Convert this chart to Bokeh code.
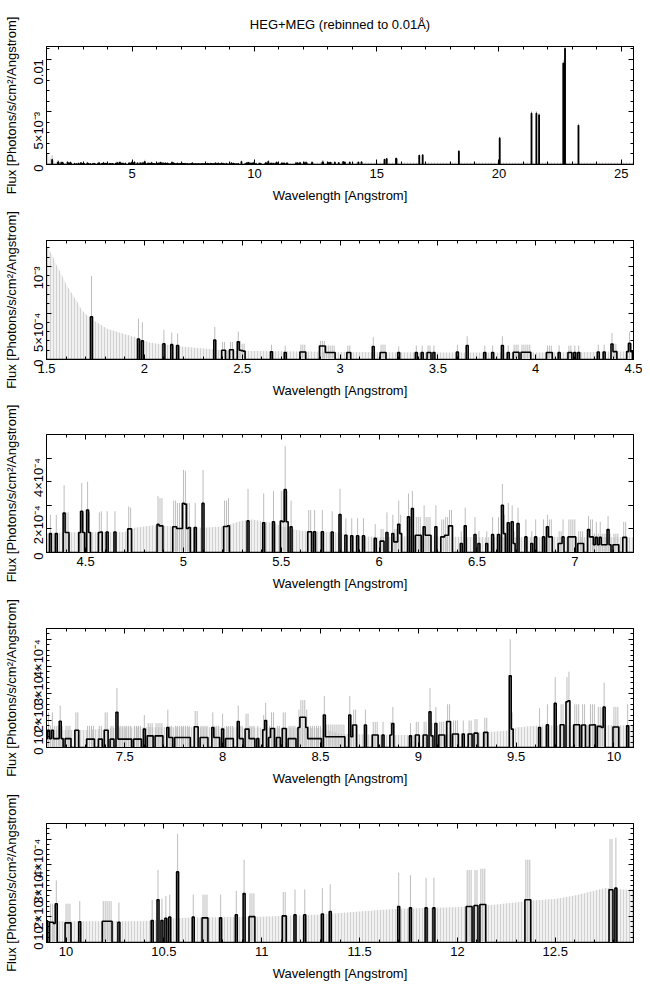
import math
import numpy as np
from bokeh.plotting import figure
from bokeh.models import (ColumnDataSource, Range1d, FixedTicker, LinearAxis,
                          CustomJSTickFormatter)
from bokeh.layouts import column
from bokeh.embed import file_html
from bokeh.resources import INLINE

# ---------------------------------------------------------------- data
TITLE = "HEG+MEG (rebinned to 0.01Å)"
XLABEL = "Wavelength [Angstrom]"
YLABEL = "Flux [Photons/s/cm²/Angstrom]"

UNIT = 1e-4          # fluxes below are in units of 1e-4 photons/s/cm2/A
BIN = 0.01
WMIN, WMAX = 1.5, 25.5

# non-zero bins: (wavelength, flux, upper end of error bar)
bins_1p5_4p3 = [
    (1.73, 4.6, 9.0), (1.97, 2.2, 4.4), (1.99, 2.0, 4.0), (2.10, 1.7, 3.2),
    (2.14, 1.6, 2.9), (2.17, 1.5, 2.8), (2.36, 2.1, 3.5), (2.40, 1.0, 1.9),
    (2.41, 1.0, 1.9), (2.44, 1.05, 1.9), (2.45, 1.05, 1.9), (2.48, 1.9, 3.0),
    (2.49, 1.0, 2.0), (2.50, 0.95, 1.7), (2.51, 0.9, 1.7), (2.65, 0.83, 1.6),
    (2.72, 0.75, 1.5), (2.80, 0.8, 1.6), (2.81, 0.8, 1.6), (2.82, 0.8, 1.6),
    (2.90, 1.45, 2.0), (2.91, 1.45, 2.0), (2.92, 1.45, 2.0), (2.93, 0.75, 1.5),
    (2.94, 0.75, 1.5), (2.95, 0.75, 1.5), (2.96, 0.75, 1.5), (2.97, 0.75, 1.5),
    (3.04, 0.75, 1.5), (3.05, 0.75, 1.5), (3.17, 1.4, 2.4), (3.21, 0.75, 1.6),
    (3.22, 0.75, 1.6), (3.23, 0.75, 1.6), (3.30, 0.75, 1.4), (3.39, 0.75, 1.5),
    (3.42, 0.75, 1.5), (3.45, 0.75, 1.5), (3.46, 0.75, 1.5), (3.48, 0.75, 1.5),
    (3.60, 0.8, 1.6), (3.65, 1.5, 2.5), (3.74, 0.75, 1.5), (3.78, 0.75, 1.5),
    (3.83, 1.5, 2.5), (3.86, 0.75, 1.5), (3.89, 0.78, 1.6), (3.90, 0.78, 1.6),
    (3.91, 0.78, 1.6), (3.93, 0.78, 1.6), (3.94, 0.78, 1.6), (3.95, 0.78, 1.6),
    (3.96, 0.78, 1.6), (3.97, 0.78, 1.6), (4.06, 0.75, 1.5), (4.07, 0.75, 1.5),
    (4.08, 0.75, 1.5), (4.12, 0.75, 1.5), (4.17, 0.75, 1.5), (4.18, 0.75, 1.5),
    (4.20, 0.75, 1.5), (4.22, 0.75, 1.5),
]

bins_4p3_7p1 = [
    (4.32, 0.8, 1.6), (4.35, 0.8, 1.6), (4.39, 1.67, 2.85), (4.40, 0.85, 1.7),
    (4.41, 0.85, 1.7), (4.47, 0.85, 1.75), (4.48, 1.75, 2.95), (4.49, 0.85, 1.7),
    (4.51, 1.8, 3.0), (4.52, 0.85, 1.7), (4.57, 0.85, 1.7), (4.58, 0.87, 1.75),
    (4.61, 0.87, 1.75), (4.65, 0.87, 1.75), (4.72, 1.0, 1.95), (4.73, 1.0, 1.9),
    (4.87, 1.19, 2.4), (4.88, 1.13, 2.3), (4.89, 1.13, 2.3), (4.95, 1.09, 2.2),
    (4.96, 1.09, 2.2), (4.97, 1.02, 2.1), (4.98, 1.02, 2.1), (4.99, 1.02, 2.1),
    (5.00, 2.08, 3.5), (5.01, 2.05, 3.45), (5.02, 1.02, 2.1), (5.03, 1.06, 2.1),
    (5.06, 1.06, 2.1), (5.10, 2.08, 3.5), (5.21, 1.1, 2.2), (5.22, 1.1, 2.2),
    (5.23, 1.13, 2.3), (5.33, 1.34, 2.7), (5.41, 1.26, 2.5), (5.46, 1.3, 2.6),
    (5.50, 1.33, 2.6), (5.51, 1.3, 2.6), (5.52, 2.67, 4.5), (5.53, 1.3, 2.6),
    (5.55, 1.09, 2.2), (5.64, 0.88, 1.8), (5.65, 0.88, 1.8), (5.67, 0.88, 1.8),
    (5.71, 0.88, 1.8), (5.76, 0.87, 1.75), (5.80, 1.61, 2.7), (5.83, 0.73, 1.45),
    (5.86, 0.71, 1.45), (5.89, 0.71, 1.45), (5.92, 0.71, 1.45), (5.98, 0.6, 1.2),
    (6.01, 0.48, 1.0), (6.02, 0.48, 1.0), (6.04, 0.85, 1.7), (6.07, 0.8, 1.6),
    (6.08, 0.45, 1.0), (6.09, 0.45, 1.0), (6.10, 1.2, 2.2), (6.11, 0.8, 1.6),
    (6.15, 1.51, 2.5), (6.17, 1.86, 2.6), (6.19, 0.73, 1.5), (6.20, 0.73, 1.5),
    (6.21, 0.73, 1.5), (6.23, 1.09, 2.0), (6.24, 0.73, 1.5), (6.25, 0.73, 1.5),
    (6.26, 0.73, 1.5), (6.29, 1.09, 2.0), (6.32, 0.66, 1.4), (6.33, 0.66, 1.4),
    (6.34, 0.73, 1.5), (6.35, 0.73, 1.5), (6.36, 1.13, 1.8), (6.37, 1.13, 1.8),
    (6.42, 0.38, 0.9), (6.44, 1.13, 1.9), (6.49, 0.76, 1.5), (6.51, 0.38, 0.9),
    (6.55, 0.38, 0.9), (6.58, 0.76, 1.5), (6.61, 0.76, 1.5), (6.63, 2.0, 2.9),
    (6.64, 0.8, 1.6), (6.66, 1.26, 2.1), (6.68, 1.3, 2.0), (6.69, 0.38, 0.9),
    (6.71, 1.23, 1.9), (6.75, 0.66, 1.4), (6.78, 0.38, 0.9), (6.80, 0.66, 1.4),
    (6.84, 0.66, 1.4), (6.86, 1.09, 1.6), (6.87, 0.66, 1.4), (6.88, 0.66, 1.4),
    (6.92, 0.38, 0.9), (6.93, 0.38, 0.9), (6.94, 0.66, 1.4), (6.97, 0.66, 1.4),
    (6.98, 0.66, 1.4), (6.99, 0.66, 1.4), (7.00, 0.66, 1.4), (7.02, 0.38, 0.9),
    (7.03, 0.38, 0.9), (7.04, 0.38, 0.9), (7.07, 0.97, 1.55), (7.08, 0.66, 1.4),
    (7.09, 0.66, 1.4),
]

bins_7p1_9p9 = [
    (7.10, 0.33, 0.8), (7.11, 0.64, 1.3), (7.12, 0.33, 0.8), (7.13, 0.64, 1.3),
    (7.14, 0.33, 0.8), (7.15, 0.33, 0.8), (7.16, 0.33, 0.8), (7.17, 0.97, 1.55),
    (7.18, 0.33, 0.8), (7.20, 0.33, 0.8), (7.21, 0.33, 0.8), (7.22, 0.33, 0.8),
    (7.25, 0.64, 1.3), (7.26, 0.64, 1.3), (7.31, 0.31, 0.8), (7.32, 0.31, 0.8),
    (7.33, 0.31, 0.8), (7.34, 0.31, 0.8), (7.37, 0.31, 0.8), (7.38, 0.31, 0.8),
    (7.40, 0.64, 1.3), (7.41, 0.64, 1.3), (7.43, 0.31, 0.8), (7.44, 0.31, 0.8),
    (7.46, 1.3, 2.2), (7.47, 0.31, 0.8), (7.48, 0.31, 0.8), (7.49, 0.31, 0.8),
    (7.50, 0.31, 0.8), (7.51, 0.31, 0.8), (7.52, 0.31, 0.8), (7.53, 0.31, 0.8),
    (7.55, 0.31, 0.8), (7.56, 0.31, 0.8), (7.57, 0.31, 0.8), (7.58, 0.31, 0.8),
    (7.60, 0.68, 1.2), (7.62, 0.43, 0.9), (7.63, 0.43, 0.9), (7.64, 0.43, 0.9),
    (7.66, 0.43, 0.9), (7.67, 0.43, 0.9), (7.68, 0.43, 0.9), (7.69, 0.43, 0.9),
    (7.72, 0.74, 1.4), (7.73, 0.37, 0.8), (7.74, 0.37, 0.8), (7.76, 0.37, 0.8),
    (7.77, 0.37, 0.8), (7.78, 0.37, 0.8), (7.79, 0.37, 0.8), (7.80, 0.37, 0.8),
    (7.81, 0.37, 0.8), (7.82, 0.37, 0.8), (7.83, 0.37, 0.8), (7.86, 0.77, 1.35),
    (7.87, 0.77, 1.35), (7.89, 0.37, 0.8), (7.90, 0.37, 0.8), (7.91, 0.37, 0.8),
    (7.92, 0.37, 0.8), (7.95, 0.74, 1.3), (7.96, 0.37, 0.8), (7.97, 0.37, 0.8),
    (7.98, 0.37, 0.8), (8.00, 0.68, 1.25), (8.02, 0.33, 0.8), (8.03, 0.33, 0.8),
    (8.04, 0.33, 0.8), (8.05, 0.33, 0.8), (8.08, 0.96, 1.55), (8.09, 0.33, 0.8),
    (8.10, 0.33, 0.8), (8.12, 0.68, 1.25), (8.13, 0.68, 1.25), (8.14, 0.33, 0.8),
    (8.15, 0.33, 0.8), (8.16, 0.33, 0.8), (8.18, 0.33, 0.8), (8.21, 0.65, 1.2),
    (8.22, 1.0, 1.65), (8.24, 0.37, 0.8), (8.25, 0.7, 1.3), (8.26, 0.7, 1.3),
    (8.28, 0.37, 0.8), (8.29, 0.37, 0.8), (8.31, 0.7, 1.3), (8.32, 0.7, 1.3),
    (8.34, 0.33, 0.8), (8.35, 0.33, 0.8), (8.36, 0.33, 0.8), (8.37, 0.33, 0.8),
    (8.39, 0.74, 1.4), (8.40, 1.12, 1.75), (8.41, 1.12, 1.75), (8.42, 1.12, 1.75),
    (8.43, 0.74, 1.4), (8.44, 0.33, 0.8), (8.45, 0.33, 0.8), (8.46, 0.33, 0.8),
    (8.47, 0.33, 0.8), (8.48, 0.33, 0.8), (8.49, 0.33, 0.8), (8.50, 0.33, 0.8),
    (8.52, 1.2, 1.9), (8.53, 0.4, 0.85), (8.54, 0.4, 0.85), (8.55, 0.4, 0.85),
    (8.56, 0.4, 0.85), (8.57, 0.4, 0.85), (8.58, 0.4, 0.85), (8.59, 0.4, 0.85),
    (8.60, 0.4, 0.85), (8.61, 0.4, 0.85), (8.62, 0.4, 0.85), (8.65, 1.2, 1.9),
    (8.66, 0.4, 0.85), (8.67, 0.83, 1.4), (8.68, 0.83, 1.4), (8.73, 0.83, 1.4),
    (8.77, 0.46, 0.95), (8.78, 0.46, 0.95), (8.79, 0.46, 0.95), (8.82, 0.46, 0.95),
    (8.86, 0.46, 0.95), (8.87, 0.89, 1.5), (8.96, 0.43, 0.9), (8.99, 0.46, 0.95),
    (9.00, 0.46, 0.95), (9.03, 0.46, 0.95), (9.04, 0.46, 0.95), (9.06, 1.32, 2.2),
    (9.07, 0.43, 0.9), (9.09, 0.89, 1.5), (9.11, 0.46, 0.95), (9.12, 0.46, 0.95),
    (9.13, 0.46, 0.95), (9.15, 0.96, 1.6), (9.16, 0.96, 1.6), (9.18, 0.5, 1.0),
    (9.19, 0.5, 1.0), (9.20, 0.5, 1.0), (9.23, 0.5, 1.0), (9.26, 0.5, 1.0),
    (9.27, 0.5, 1.0), (9.29, 0.53, 1.05), (9.30, 0.53, 1.05), (9.34, 0.56, 1.1),
    (9.35, 0.56, 1.1), (9.47, 2.65, 4.0), (9.48, 0.68, 1.3), (9.62, 0.74, 1.45),
    (9.66, 0.84, 1.6), (9.70, 1.63, 2.6), (9.73, 0.84, 1.6), (9.74, 0.84, 1.6),
    (9.76, 1.69, 2.6), (9.77, 1.73, 2.8), (9.80, 0.84, 1.6), (9.81, 0.84, 1.6),
    (9.82, 0.84, 1.6), (9.84, 0.83, 1.6), (9.85, 0.83, 1.6), (9.88, 0.83, 1.6),
]

bins_9p9_12p9 = [
    (9.89, 0.83, 1.6), (9.90, 0.84, 1.6), (9.92, 0.78, 1.5), (9.93, 0.78, 1.5),
    (9.94, 0.74, 1.45), (9.95, 1.5, 2.4), (10.00, 0.76, 1.5), (10.01, 0.76, 1.5),
    (10.02, 0.76, 1.5), (10.07, 0.8, 1.6), (10.19, 0.82, 1.6), (10.20, 0.82, 1.6),
    (10.21, 0.82, 1.6), (10.22, 0.82, 1.6), (10.23, 0.82, 1.6), (10.27, 0.78, 1.55),
    (10.44, 0.85, 1.65), (10.47, 1.65, 2.8), (10.49, 0.85, 1.7), (10.51, 0.94, 1.8),
    (10.53, 0.98, 1.85), (10.57, 2.73, 4.2), (10.65, 0.98, 1.85), (10.70, 0.95, 1.85),
    (10.71, 0.95, 1.85), (10.72, 0.95, 1.85), (10.79, 0.95, 1.85), (10.87, 1.07, 2.0),
    (10.91, 1.89, 3.2), (10.94, 1.0, 1.9), (10.95, 1.0, 1.9), (10.96, 1.0, 1.9),
    (11.11, 1.03, 1.95), (11.12, 1.03, 1.95), (11.17, 1.07, 2.05), (11.22, 1.07, 2.05),
    (11.31, 1.1, 2.1), (11.35, 1.2, 2.25), (11.70, 1.39, 2.7), (11.76, 1.34, 2.6),
    (11.84, 1.34, 2.5), (11.88, 1.34, 2.5), (12.05, 1.39, 2.8), (12.06, 1.39, 2.8),
    (12.07, 1.39, 2.8), (12.09, 1.43, 2.8), (12.10, 1.43, 2.8), (12.12, 1.47, 2.85),
    (12.13, 1.47, 2.85), (12.14, 1.47, 2.85), (12.35, 1.65, 3.2), (12.36, 1.65, 3.2),
    (12.37, 1.65, 3.2), (12.78, 2.04, 4.0), (12.79, 2.04, 4.0), (12.81, 2.1, 4.05),
]

bins_12p9_25p5 = [
    (13.05, 1.8, 2.5), (13.12, 1.8, 2.5), (13.29, 2.0, 2.8), (13.45, 1.6, 2.4),
    (13.63, 2.5, 3.2), (13.70, 2.2, 3.0), (13.90, 2.0, 2.8), (14.25, 2.2, 3.0),
    (14.38, 2.4, 3.2), (15.32, 4.7, 5.5), (15.41, 5.5, 6.3), (15.79, 5.7, 6.5),
    (15.80, 5.7, 6.5), (15.81, 5.5, 6.3), (16.74, 8.5, 9.5), (16.88, 9.0, 10.0),
    (18.36, 12.5, 13.8), (20.03, 25.0, 26.5), (21.33, 48.5, 50.5), (21.53, 48.5, 50.5),
    (21.64, 47.0, 49.0), (22.63, 96.0, 99.0), (22.70, 110.0, 113.0), (23.25, 37.0, 39.0),
]

# upper error of the empty bins (read at these wavelengths)
env_wave = [1.50, 1.51, 1.53, 1.55, 1.58, 1.60, 1.63, 1.66, 1.68, 1.71, 1.75,
            1.81, 1.88, 1.92, 1.98, 2.03, 2.09, 2.19, 2.27, 2.34, 2.40, 2.50,
            2.70, 3.00, 3.50, 4.00, 4.30, 4.35, 4.70, 4.75, 4.85, 4.95, 5.10,
            5.20, 5.30, 5.35, 5.45, 5.55, 5.62, 5.80, 5.85, 6.00, 6.20, 6.50,
            7.00, 7.30, 7.50, 8.00, 8.50, 8.60, 9.00, 9.30, 9.45, 9.50, 9.60,
            9.90, 10.00, 10.40, 10.50, 10.60, 11.00, 11.30, 11.50, 11.70, 12.00,
            12.20, 12.40, 12.50, 12.60, 12.70, 12.76, 12.85, 12.90, 13.50, 15.00,
            20.00, 25.50]
env_flux = [12.2, 11.9, 11.2, 10.2, 9.0, 8.1, 7.1, 6.1, 5.3, 4.7, 4.1,
            3.3, 2.85, 2.6, 2.2, 1.8, 1.65, 1.4, 1.25, 1.12, 1.0, 0.92,
            0.9, 0.8, 0.75, 0.75, 0.8, 0.85, 0.87, 1.05, 1.15, 1.1, 1.05,
            1.1, 1.35, 1.4, 1.25, 1.0, 0.9, 0.85, 0.72, 0.65, 0.7, 0.65,
            0.65, 0.65, 0.75, 0.75, 0.72, 0.5, 0.45, 0.55, 0.62, 0.74, 0.8,
            0.84, 0.82, 0.82, 0.9, 0.96, 1.0, 1.08, 1.2, 1.3, 1.36,
            1.47, 1.63, 1.68, 1.82, 2.0, 2.12, 2.05, 2.05, 2.0, 2.0,
            2.0, 2.0]

# panels: wavelength window and flux ceiling
panel_xmin = [1.5, 1.5, 4.3, 7.1, 9.9]
panel_xmax = [25.5, 4.5, 7.3, 10.1, 12.9]
panel_ymax = [0.0112, 0.00128, 5.0e-4, 4.4e-4, 4.6e-4]
panel_yticks = [[0.0, 0.005, 0.01],
                [0.0, 5e-4, 1e-3],
                [0.0, 2e-4, 4e-4],
                [0.0, 1e-4, 2e-4, 3e-4, 4e-4],
                [0.0, 1e-4, 2e-4, 3e-4, 4e-4]]
panel_ylabels = [["0", "5×10⁻³", "0.01"],
                 ["0", "5×10⁻⁴", "10⁻³"],
                 ["0", "2×10⁻⁴", "4×10⁻⁴"],
                 ["0", "10⁻⁴", "2×10⁻⁴", "3×10⁻⁴", "4×10⁻⁴"],
                 ["0", "10⁻⁴", "2×10⁻⁴", "3×10⁻⁴", "4×10⁻⁴"]]
panel_ystep_minor = [1e-3, 1e-4, 1e-4, 2e-5, 2e-5]
panel_xstep_major = [5.0, 0.5, 0.5, 0.5, 0.5]
panel_xstep_minor = [1.0, 0.1, 0.1, 0.1, 0.1]

# ---------------------------------------------------------------- build sources
all_bins = bins_1p5_4p3 + bins_4p3_7p1 + bins_7p1_9p9 + bins_9p9_12p9 + bins_12p9_25p5
nbins = int(round((WMAX - WMIN) / BIN)) + 1
grid = np.round(WMIN + BIN * np.arange(nbins), 2)
flux = np.zeros(nbins)
for w, f, e in all_bins:
    flux[int(round((w - WMIN) / BIN))] = f * UNIT

step_src = ColumnDataSource(dict(x=grid, y=flux))
err_src = ColumnDataSource(dict(
    x=[b[0] for b in all_bins],
    y0=[0.0] * len(all_bins),
    y1=[b[2] * UNIT for b in all_bins]))
env_src = ColumnDataSource(dict(
    x=env_wave, y1=[0.0] * len(env_wave), y2=[v * UNIT for v in env_flux]))

FONT = "Liberation Sans"
FS = "13px"

LOOKUP = """
for (let i = 0; i < tv.length; i++) {
  if (Math.abs(tv[i] - tick) <= 1e-9 * Math.max(1, Math.abs(tick)) + 1e-12) return tl[i];
}
return '';
"""


def tick_list(a, b, step):
    n0 = math.ceil(a / step - 1e-6)
    n1 = math.floor(b / step + 1e-6)
    return [round(k * step, 6) for k in range(n0, n1 + 1)]


heights = [206, 194, 194, 194, 196]
btop = [46, 34, 34, 34, 35]
bbot = [42, 41, 42, 41, 42]

figs = []
for i in range(5):
    p = figure(width=642, height=heights[i],
               x_range=Range1d(panel_xmin[i], panel_xmax[i]),
               y_range=Range1d(0, panel_ymax[i]),
               output_backend="svg", toolbar_location=None,
               min_border_left=45, min_border_right=9,
               min_border_top=btop[i], min_border_bottom=bbot[i])
    p.grid.visible = False
    p.background_fill_color = "white"
    p.border_fill_color = "white"
    p.outline_line_color = "black"
    p.outline_line_width = 1

    p.varea(x="x", y1="y1", y2="y2", source=env_src, fill_color="#f1f1f1",
            hatch_pattern="|", hatch_color="#d2d2d2", hatch_scale=3, hatch_weight=1)
    p.segment(x0="x", y0="y0", x1="x", y1="y1", source=err_src,
              line_color="#bdbdbd", line_width=1)
    p.step(x="x", y="y", source=step_src, mode="center",
           line_color="black", line_width=1.6)

    xt = tick_list(panel_xmin[i], panel_xmax[i], panel_xstep_major[i])
    xm = tick_list(panel_xmin[i], panel_xmax[i], panel_xstep_minor[i])
    xlab = [f"{t:g}" for t in xt]
    xticker = FixedTicker(ticks=xt, minor_ticks=xm)
    yt = panel_yticks[i]
    ym = tick_list(0, panel_ymax[i], panel_ystep_minor[i])
    yticker = FixedTicker(ticks=yt, minor_ticks=ym)

    xf = CustomJSTickFormatter(args=dict(tv=xt, tl=xlab), code=LOOKUP)
    yf = CustomJSTickFormatter(args=dict(tv=yt, tl=panel_ylabels[i]), code=LOOKUP)

    for ax in p.xaxis:
        ax.ticker = xticker
        ax.formatter = xf
        ax.axis_label = XLABEL
    for ax in p.yaxis:
        ax.ticker = yticker
        ax.formatter = yf
        ax.axis_label = YLABEL
        ax.major_label_orientation = math.pi / 2

    top = LinearAxis(ticker=xticker, formatter=xf)
    right = LinearAxis(ticker=yticker, formatter=yf)
    p.add_layout(top, "above")
    p.add_layout(right, "right")

    for ax in list(p.xaxis) + list(p.yaxis):
        ax.axis_line_color = "black"
        ax.major_tick_line_color = "black"
        ax.minor_tick_line_color = "black"
        ax.major_tick_in = 5
        ax.major_tick_out = 0
        ax.minor_tick_in = 3
        ax.minor_tick_out = 0
        ax.major_label_text_font = FONT
        ax.major_label_text_font_size = FS
        ax.major_label_text_color = "black"
        ax.axis_label_text_font = FONT
        ax.axis_label_text_font_size = FS
        ax.axis_label_text_font_style = "normal"
        ax.axis_label_text_color = "black"
    for ax in p.below:
        ax.major_label_standoff = 4
        ax.axis_label_standoff = 7
    for ax in p.left:
        ax.major_label_standoff = 8
        ax.axis_label_standoff = 2
    if i == 2:
        for ax in p.yaxis:
            ax.minor_tick_in = 5
    for ax in (top, right):
        ax.major_label_text_font_size = "1px"
        ax.major_label_text_color = None
        ax.major_label_standoff = 0
        ax.axis_label = None

    if i == 0:
        p.title.text = TITLE
        p.title.align = "center"
        p.title.text_font = FONT
        p.title.text_font_size = FS
        p.title.text_font_style = "normal"
        p.title.text_color = "black"
        p.title.standoff = 29
    figs.append(p)

layout = column(*figs, spacing=0)
open("out.html", "w").write(file_html(layout, INLINE))
